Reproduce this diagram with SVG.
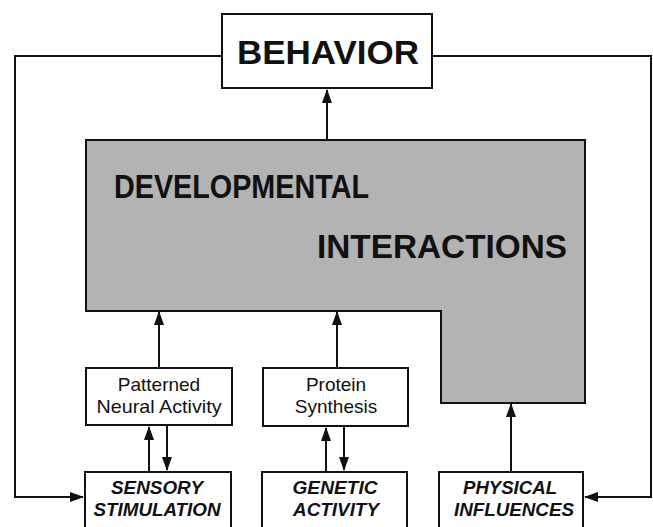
<svg xmlns="http://www.w3.org/2000/svg" width="653" height="527" viewBox="0 0 653 527">
<style>
.box{fill:#fff;stroke:#111;stroke-width:2}
.gray{fill:#b3b3b3;stroke:#111;stroke-width:2}
.ln{fill:none;stroke:#111;stroke-width:2}
.big{font-family:"Liberation Sans",Arial,sans-serif;font-weight:bold;fill:#111}
.bi{font-family:"Liberation Sans",Arial,sans-serif;font-weight:bold;font-style:italic;font-size:19px;fill:#111;text-anchor:middle}
.reg{font-family:"Liberation Sans",Arial,sans-serif;font-size:19px;fill:#111;text-anchor:middle}
</style>
<defs>
<marker id="ah" markerUnits="userSpaceOnUse" markerWidth="14" markerHeight="10" viewBox="0 0 14 10" refX="13" refY="5" orient="auto">
<path d="M0,0 L14,5 L0,10 z" fill="#111"/>
</marker>
</defs>
<rect width="653" height="527" fill="#fff"/>
<g id="connectors">
<path class="ln" d="M222,56 H15 V497 H83" marker-end="url(#ah)"/>
<path class="ln" d="M432,56 H651 V497 H585" marker-end="url(#ah)"/>
<path class="ln" d="M327,140 V90" marker-end="url(#ah)"/>
<path class="ln" d="M159,368 V312" marker-end="url(#ah)"/>
<path class="ln" d="M337,368 V312" marker-end="url(#ah)"/>
<path class="ln" d="M511,472 V404" marker-end="url(#ah)"/>
<path class="ln" d="M149,472 V427" marker-end="url(#ah)"/>
<path class="ln" d="M167,426 V470" marker-end="url(#ah)"/>
<path class="ln" d="M326,472 V428" marker-end="url(#ah)"/>
<path class="ln" d="M344,427 V470" marker-end="url(#ah)"/>
</g>
<g id="behavior">
<rect class="box" x="222" y="14" width="210" height="74"/>
<text class="big" x="237" y="64" font-size="34" textLength="182" lengthAdjust="spacingAndGlyphs">BEHAVIOR</text>
</g>
<g id="developmental-interactions">
<path class="gray" d="M86,140 H585 V403 H441 V311 H86 Z"/>
<text class="big" x="114" y="198" font-size="33" textLength="255" lengthAdjust="spacingAndGlyphs">DEVELOPMENTAL</text>
<text class="big" x="317" y="258" font-size="33" textLength="250" lengthAdjust="spacingAndGlyphs">INTERACTIONS</text>
</g>
<g id="patterned-neural-activity">
<rect class="box" x="86" y="368" width="146" height="57"/>
<text class="reg" x="159" y="391">Patterned</text>
<text class="reg" x="159" y="413" textLength="125" lengthAdjust="spacingAndGlyphs">Neural Activity</text>
</g>
<g id="protein-synthesis">
<rect class="box" x="263" y="368" width="145" height="58"/>
<text class="reg" x="336" y="391">Protein</text>
<text class="reg" x="336" y="413">Synthesis</text>
</g>
<g id="sensory-stimulation">
<rect class="box" x="85" y="472" width="146" height="62"/>
<text class="bi" x="157" y="494" textLength="92" lengthAdjust="spacingAndGlyphs">SENSORY</text>
<text class="bi" x="157" y="516" textLength="127" lengthAdjust="spacingAndGlyphs">STIMULATION</text>
</g>
<g id="genetic-activity">
<rect class="box" x="262" y="472" width="145" height="62"/>
<text class="bi" x="335" y="494" textLength="85" lengthAdjust="spacingAndGlyphs">GENETIC</text>
<text class="bi" x="336" y="516" textLength="86" lengthAdjust="spacingAndGlyphs">ACTIVITY</text>
</g>
<g id="physical-influences">
<rect class="box" x="439" y="472" width="144" height="62"/>
<text class="bi" x="510" y="494" textLength="94" lengthAdjust="spacingAndGlyphs">PHYSICAL</text>
<text class="bi" x="514" y="516" textLength="120" lengthAdjust="spacingAndGlyphs">INFLUENCES</text>
</g>
</svg>
